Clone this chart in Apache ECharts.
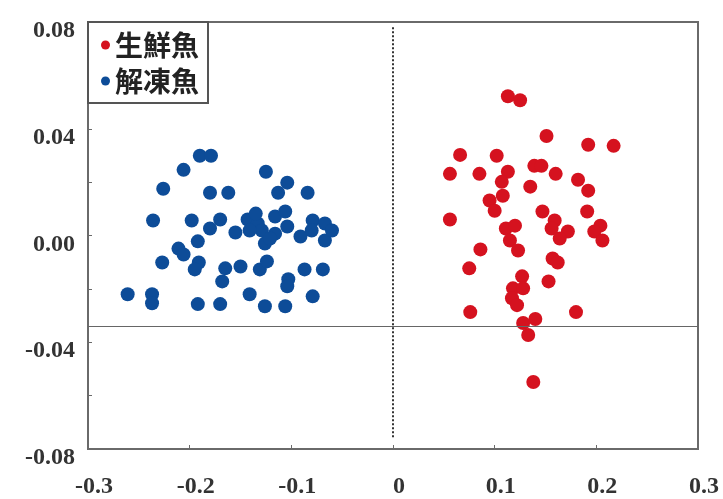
<!DOCTYPE html>
<html>
<head>
<meta charset="utf-8">
<title>生鮮魚・解凍魚</title>
<script src="https://cdn.jsdelivr.net/npm/echarts/dist/echarts.min.js"></script>
<style>
  html, body { margin: 0; padding: 0; background: #fff; }
  #chart { width: 723px; height: 499px; }
</style>
</head>
<body>
<div id="chart"></div>
<script>
// series names (legend)
var seriesNames = ['生鮮魚', '解凍魚']

// 生鮮魚 points [x, y]
var freshFish = [
  [0.113, 0.0522], [0.125, 0.0507], [0.151, 0.0373], [0.192, 0.0340], [0.217, 0.0336],
  [0.066, 0.0302], [0.102, 0.0299], [0.056, 0.0231], [0.085, 0.0231], [0.113, 0.0239],
  [0.107, 0.0201], [0.139, 0.0261], [0.146, 0.0261], [0.160, 0.0231], [0.182, 0.0209],
  [0.192, 0.0168], [0.135, 0.0183], [0.095, 0.0131], [0.108, 0.0149], [0.100, 0.0093],
  [0.056, 0.0060], [0.147, 0.0090], [0.159, 0.0056], [0.156, 0.0026], [0.172, 0.0015],
  [0.164, -0.0011], [0.191, 0.0090], [0.204, 0.0037], [0.198, 0.0015], [0.206, -0.0019],
  [0.111, 0.0026], [0.120, 0.0037], [0.115, -0.0019], [0.123, -0.0056], [0.086, -0.0052],
  [0.075, -0.0123], [0.157, -0.0086], [0.162, -0.0101], [0.127, -0.0153], [0.118, -0.0198],
  [0.128, -0.0198], [0.117, -0.0235], [0.122, -0.0261], [0.153, -0.0172], [0.076, -0.0287],
  [0.180, -0.0287], [0.128, -0.0328], [0.140, -0.0313], [0.133, -0.0373], [0.138, -0.0549]
]

// 解凍魚 points [x, y]
var thawedFish = [
  [-0.190, 0.0299], [-0.179, 0.0299], [-0.206, 0.0246], [-0.226, 0.0175], [-0.180, 0.0160],
  [-0.162, 0.0160], [-0.125, 0.0239], [-0.104, 0.0198], [-0.113, 0.0160], [-0.084, 0.0160],
  [-0.236, 0.0056], [-0.198, 0.0056], [-0.170, 0.0060], [-0.180, 0.0026], [-0.192, -0.0022],
  [-0.211, -0.0049], [-0.206, -0.0071], [-0.227, -0.0101], [-0.191, -0.0101], [-0.195, -0.0127],
  [-0.165, -0.0123], [-0.168, -0.0172], [-0.261, -0.0220], [-0.237, -0.0220], [-0.237, -0.0254],
  [-0.192, -0.0257], [-0.170, -0.0257], [-0.150, -0.0116], [-0.131, -0.0127], [-0.124, -0.0097],
  [-0.103, -0.0164], [-0.104, -0.0190], [-0.087, -0.0127], [-0.069, -0.0127], [-0.141, -0.0220],
  [-0.079, -0.0228], [-0.126, -0.0265], [-0.106, -0.0265], [-0.155, 0.0011], [-0.143, 0.0060],
  [-0.133, 0.0045], [-0.129, 0.0019], [-0.126, -0.0030], [-0.116, 0.0071], [-0.106, 0.0090],
  [-0.116, 0.0007], [-0.104, 0.0034], [-0.091, -0.0004], [-0.079, 0.0056], [-0.080, 0.0019],
  [-0.067, -0.0019], [-0.067, 0.0045], [-0.060, 0.0019], [-0.141, 0.0019], [-0.121, -0.0011],
  [-0.135, 0.0082]
]

// reference lines
var cutLineY = -0.034
var zeroLineSpan = [0.078, -0.0757]

var axisColor = '#6a6a6a'
var labelFont = {
  fontFamily: 'Liberation Serif',
  fontWeight: 'bold',
  fontSize: 24,
  color: '#333'
}

var chart = echarts.init(document.getElementById('chart'))
chart.setOption({
  animation: false,
  backgroundColor: '#fff',
  grid: {
    left: 88,
    right: 25,
    top: 22,
    bottom: 48,
    show: true,
    borderColor: axisColor,
    borderWidth: 2
  },
  legend: {
    data: seriesNames,
    orient: 'vertical',
    left: 88,
    top: 22,
    padding: [9, 9, 8, 13],
    itemGap: 8,
    itemWidth: 9,
    itemHeight: 9,
    icon: 'circle',
    borderColor: '#555',
    borderWidth: 2,
    backgroundColor: '#fff',
    textStyle: {
      fontFamily: 'Noto Sans CJK JP',
      fontWeight: 'bold',
      fontSize: 28,
      color: '#222'
    }
  },
  xAxis: {
    type: 'value',
    min: -0.3,
    max: 0.3,
    interval: 0.1,
    splitLine: { show: false },
    axisLine: { onZero: false, lineStyle: { color: axisColor, width: 2 } },
    axisTick: { inside: true, length: 4, lineStyle: { color: axisColor } },
    axisLabel: Object.assign({}, labelFont, {
      margin: 26,
      padding: [0, 0, 0, 12],
      formatter: function (v) {
        return Math.abs(v) < 1e-9 ? '0' : v.toFixed(1)
      }
    })
  },
  yAxis: {
    type: 'value',
    min: -0.08,
    max: 0.08,
    interval: 0.04,
    splitLine: { show: false },
    axisLine: { onZero: false, lineStyle: { color: axisColor, width: 2 } },
    axisTick: { inside: true, length: 4, lineStyle: { color: axisColor } },
    minorTick: { show: true, splitNumber: 2, length: 4, lineStyle: { color: axisColor } },
    axisLabel: Object.assign({}, labelFont, {
      margin: 13,
      verticalAlign: 'top',
      lineHeight: 18,
      formatter: function (v) {
        return v.toFixed(2)
      }
    })
  },
  series: [{
    name: seriesNames[0],
    type: 'scatter',
    symbolSize: 14,
    data: freshFish,
    itemStyle: { color: '#d5121f', opacity: 1 },
    markLine: {
      silent: true,
      symbol: 'none',
      label: { show: false },
      data: [
        [
          { coord: [0, zeroLineSpan[0]], lineStyle: { type: 'dotted', color: '#333', width: 2 } },
          { coord: [0, zeroLineSpan[1]] }
        ],
        [
          { coord: [-0.3, cutLineY], lineStyle: { type: 'solid', color: '#666', width: 1 } },
          { coord: [0.3, cutLineY] }
        ]
      ]
    }
  }, {
    name: seriesNames[1],
    type: 'scatter',
    symbolSize: 14,
    data: thawedFish,
    itemStyle: { color: '#0d4c98', opacity: 1 }
  }]
})
</script>
</body>
</html>
